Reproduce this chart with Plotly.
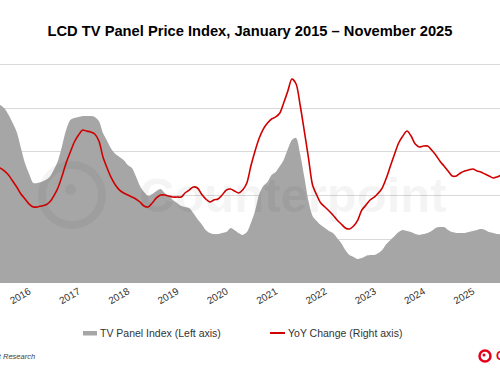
import pandas as pd
import plotly.graph_objects as go

# ---- data ----
months = pd.date_range("2015-01-01", periods=131, freq="MS")

panel_index = [
    78, 80, 81.5, 82.5, 82.5, 81.5, 80, 77, 73.2, 69.1, 61.8, 54.9,
    49.9, 45.8, 45.8, 46.2, 47.1, 48.5, 51.7, 55.8, 62.7, 70.0, 74.6, 75.5,
    76.0, 76.4, 76.4, 76.4, 76.0, 74.1, 68.6, 65.0, 61.3, 59.0, 57.7, 56.3,
    54.0, 52.6, 49.0, 44.4, 41.6, 39.8, 40.7, 42.1, 43.0, 41.2, 39.8, 38.0,
    36.6, 35.2, 34.8, 34.3, 32.0, 29.3, 27.0, 24.3, 22.9, 22.4, 22.4, 22.9,
    23.3, 25.2, 24.3, 22.9, 22.0, 23.3, 27.5, 33.0, 40.7, 44.4, 46.2, 49.4,
    50.8, 53.5, 56.3, 61.3, 65.4, 66.4, 59.0, 48.5, 37.5, 30.7, 28.4, 26.5,
    25.2, 23.8, 22.9, 20.6, 18.3, 15.1, 12.8, 11.9, 11.0, 11.4, 12.4, 12.8,
    12.8, 13.7, 15.1, 17.8, 19.7, 21.5, 23.3, 24.3, 23.8, 23.3, 22.4, 22.0,
    22.4, 22.9, 23.8, 25.2, 25.6, 25.6, 24.3, 23.3, 22.9, 22.9, 22.9, 23.3,
    23.8, 24.3, 24.7, 24.3, 23.3, 22.9, 22.4, 22.4, 22.9, 23.3, 23.8,
]

yoy_change = [
    24.4, 23.1, 21.7, 21.0, 20.3, 18.9, 16.9, 14.1, 10.0, 5.9, 1.1, -2.3,
    -5.8, -7.8, -7.8, -7.1, -6.5, -4.4, -0.3, 5.2, 13.5, 22.4, 29.9, 36.8,
    41.6, 45.0, 44.3, 43.7, 42.3, 37.5, 26.5, 18.9, 12.1, 7.3, 3.8, 1.8,
    0.4, -1.0, -2.3, -4.4, -7.1, -7.8, -5.1, -1.6, 0.4, 0.4, -0.3, -1.0,
    -1.0, -1.0, 1.8, 3.8, 5.9, 5.2, 1.1, -2.3, -4.4, -3.0, -2.3, 0.4,
    3.8, 4.5, 3.2, 1.8, 3.8, 8.6, 20.3, 30.6, 39.5, 45.7, 49.8, 52.6,
    54.0, 56.7, 63.6, 71.8, 80.0, 76.6, 62.2, 44.3, 25.8, 7.3, 0.4, -5.1,
    -7.8, -10.6, -13.3, -16.8, -19.5, -22.2, -22.9, -20.9, -16.8, -9.9, -6.5, -3.0,
    -1.0, 1.8, 5.2, 12.1, 20.3, 28.6, 36.1, 40.9, 44.3, 40.9, 35.4, 33.4,
    34.0, 34.0, 31.3, 27.9, 23.8, 20.3, 16.9, 13.5, 13.5, 15.5, 16.9, 17.6,
    18.3, 16.9, 16.2, 14.8, 13.5, 12.1, 12.8, 14.1, 14.8, 14.8, 14.1,
]

year_ticks = ["2016", "2017", "2018", "2019", "2020", "2021", "2022", "2023", "2024", "2025"]

title_text = "LCD TV Panel Price Index, January 2015 \u2013 November 2025"
series_names = ["TV Panel Index (Left axis)", "YoY Change (Right axis)"]

GRAY = "#a6a6a6"
RED = "#d00000"
FONT = "Arial, Liberation Sans, sans-serif"

W, H = 500, 383
TOP, BOTTOM = 63, 283
GRID_TOP = 64.5
SCALE = (BOTTOM - TOP) / (BOTTOM - GRID_TOP)


def px(x):
    return x / W


def py(y):
    return (BOTTOM - y) / (BOTTOM - TOP)


fig = go.Figure()
fig.add_trace(go.Scatter(
    x=months, y=panel_index, mode="lines", fill="tozeroy",
    fillcolor=GRAY, line=dict(width=0, color=GRAY, shape="spline", smoothing=0.8),
    name=series_names[0], showlegend=False, yaxis="y",
))
fig.add_trace(go.Scatter(
    x=months, y=yoy_change, mode="lines",
    line=dict(width=1.6, color=RED, shape="spline", smoothing=0.8),
    name=series_names[1], showlegend=False, yaxis="y2",
))

tickvals = [pd.Timestamp(f"{y}-01-01") for y in year_ticks]

fig.update_layout(
    width=W, height=H,
    margin=dict(l=0, r=0, t=TOP, b=H - BOTTOM, pad=0),
    paper_bgcolor="white", plot_bgcolor="white",
    font=dict(family=FONT, color="#333333"),
    title=dict(text=f"<b>{title_text}</b>", x=0.5, xanchor="center",
               y=1 - 31 / H, yanchor="middle",
               font=dict(size=14.7, color="#000000", family=FONT)),
    xaxis=dict(
        range=["2015-05-30", "2025-07-21"],
        tickvals=tickvals, ticktext=year_ticks, tickangle=-30,
        tickfont=dict(size=10, color="#333333"),
        showgrid=False, zeroline=False, showline=False, ticks="",
    ),
    yaxis=dict(
        range=[0, 100 * SCALE], tickvals=[0, 20, 40, 60, 80, 100], showgrid=True,
        gridcolor="#d9d9d9", gridwidth=1, zeroline=False, showticklabels=False,
        showline=False,
    ),
    yaxis2=dict(
        range=[-60, -60 + 150 * SCALE], overlaying="y", side="right", showgrid=False,
        zeroline=False, showticklabels=False, showline=False,
    ),
    showlegend=False,
)

shapes = []
annotations = []

# watermark
wm = "rgba(0,0,0,0.045)"
shapes.append(dict(type="circle", xref="paper", yref="paper",
                   x0=px(72 - 30), x1=px(72 + 30), y0=py(225), y1=py(165),
                   line=dict(color=wm, width=8), layer="above"))
shapes.append(dict(type="circle", xref="paper", yref="paper",
                   x0=px(65), x1=px(76), y0=py(195), y1=py(184),
                   fillcolor=wm, line=dict(width=0), layer="above"))
annotations.append(dict(text="<b>Counterpoint</b>", xref="paper", yref="paper",
                        x=px(293), y=py(195), xanchor="center", yanchor="middle",
                        showarrow=False, font=dict(size=49, color=wm, family=FONT)))

# manual legend
LEG_Y = 333
shapes.append(dict(type="rect", xref="paper", yref="paper",
                   x0=px(83), x1=px(97), y0=py(335.5), y1=py(331),
                   fillcolor=GRAY, line=dict(width=0)))
annotations.append(dict(text=series_names[0], xref="paper", yref="paper",
                        x=px(98), y=py(LEG_Y), xanchor="left", yanchor="middle",
                        showarrow=False, font=dict(size=10.5, color="#333333")))
shapes.append(dict(type="line", xref="paper", yref="paper",
                   x0=px(270), x1=px(285), y0=py(LEG_Y), y1=py(LEG_Y),
                   line=dict(color=RED, width=2)))
annotations.append(dict(text=series_names[1], xref="paper", yref="paper",
                        x=px(286), y=py(LEG_Y), xanchor="left", yanchor="middle",
                        showarrow=False, font=dict(size=10.5, color="#333333")))

# source note
annotations.append(dict(text="<i>Source: Counterpoint Research</i>", xref="paper", yref="paper",
                        x=px(37), y=py(356), xanchor="right", yanchor="middle",
                        showarrow=False, font=dict(size=7.5, color="#404040")))

# brand logo bottom-right
shapes.append(dict(type="circle", xref="paper", yref="paper",
                   x0=px(479.5), x1=px(490.5), y0=py(361.5), y1=py(350.5),
                   line=dict(color="#e3001b", width=2.5)))
shapes.append(dict(type="circle", xref="paper", yref="paper",
                   x0=px(482.5), x1=px(485.5), y0=py(356.5), y1=py(353.5),
                   fillcolor="#e3001b", line=dict(width=0)))
annotations.append(dict(text="<b>Counterpoint</b>", xref="paper", yref="paper",
                        x=px(494), y=py(356), xanchor="left", yanchor="middle",
                        showarrow=False, font=dict(size=12, color="#e3001b")))

fig.update_layout(shapes=shapes, annotations=annotations)

fig.write_html(
    "out.html",
    config={"displayModeBar": False},
    post_script="document.body.style.margin='0';document.body.style.padding='0';"
                "document.documentElement.style.overflow='hidden';",
)
